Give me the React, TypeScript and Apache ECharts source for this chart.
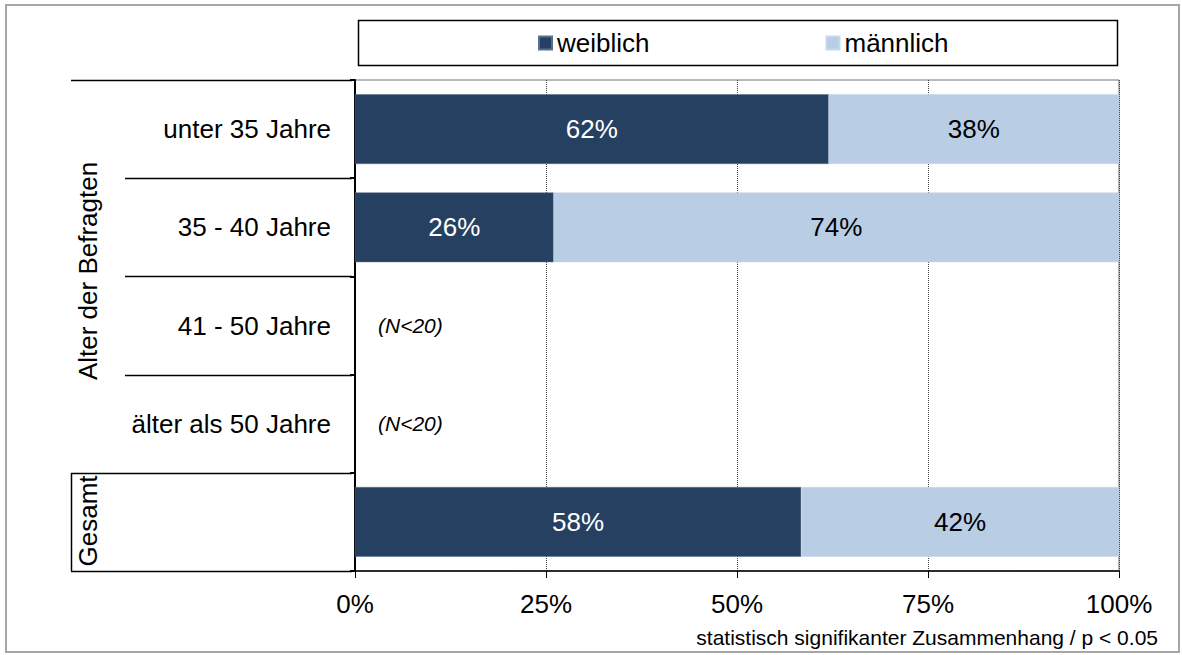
import React, { useEffect, useRef } from "react";
import * as echarts from "echarts";

const categories = ["unter 35 Jahre", "35 - 40 Jahre", "41 - 50 Jahre", "älter als 50 Jahre", "Gesamt"];
const weiblich = [62, 26, null, null, 58.4];
const maennlich = [38, 74, null, null, 41.6];
const notes = [null, null, "(N<20)", "(N<20)", null];
const xTicks = [0, 25, 50, 75, 100];
const seriesNames = ["weiblich", "männlich"];

const FONT = "Liberation Sans, Arial, sans-serif";
const FS = 26;
const GL = 355, GT = 80, GW = 764, GH = 491;

export default function App() {
  const ref = useRef<HTMLDivElement>(null);
  useEffect(() => {
    if (!ref.current) return;
    const chart = echarts.init(ref.current, null, { renderer: "svg" });
    const rowH = GH / categories.length;
    const lines: any[] = [];
    const lineStyle = { stroke: "#000", lineWidth: 1.5 };
    for (let i = 0; i <= categories.length; i++) {
      const y = Math.round(GT + i * rowH) + 0.5;
      const long = i === 0 || i === 4 || i === 5;
      lines.push({ type: "line", shape: { x1: long ? 71 : 125, y1: y, x2: GL - 3, y2: y }, style: lineStyle, silent: true });
    }
    lines.push({ type: "line", shape: { x1: 71.5, y1: Math.round(GT + 4 * rowH), x2: 71.5, y2: GT + GH }, style: lineStyle, silent: true });

    const noteData = notes
      .map((n, i) => (n ? { value: [0, i], note: n } : null))
      .filter((d) => d !== null);

    chart.setOption({
      animation: false,
      backgroundColor: "#fff",
      textStyle: { fontFamily: FONT },
      grid: { left: GL, top: GT, width: GW, height: GH, containLabel: false, show: true, borderColor: "#707070", borderWidth: 1 },
      legend: {
        data: seriesNames,
        left: 533,
        top: 25,
        icon: "rect",
        itemWidth: 13,
        itemHeight: 13,
        itemGap: 176,
        textStyle: { fontSize: FS, color: "#000", fontFamily: FONT },
      },
      xAxis: {
        type: "value",
        min: xTicks[0],
        max: xTicks[xTicks.length - 1],
        interval: 25,
        axisLine: { show: true, lineStyle: { color: "#000", width: 1.5 } },
        axisTick: { show: true, length: 7, lineStyle: { color: "#000", width: 1 } },
        axisLabel: { formatter: "{value}%", fontSize: FS, color: "#000", margin: 20, fontFamily: FONT },
        splitLine: { show: true, lineStyle: { color: "#444", type: [1, 1], width: 1 } },
      },
      yAxis: {
        type: "category",
        inverse: true,
        data: categories,
        axisLine: { show: true, lineStyle: { color: "#000", width: 2 } },
        axisTick: { show: true, length: 5, lineStyle: { color: "#000", width: 2 } },
        axisLabel: {
          fontSize: FS,
          color: "#000",
          margin: 24,
          fontFamily: FONT,
          formatter: (v: string) => (v === "Gesamt" ? "" : v),
        },
        splitLine: { show: false },
      },
      series: [
        {
          name: seriesNames[0],
          type: "bar",
          stack: "total",
          barCategoryGap: "29%",
          data: weiblich,
          itemStyle: { color: "#264061", borderColor: "#5b6f8a", borderWidth: 0.5 },
          label: { show: true, position: "inside", color: "#fff", fontSize: FS, fontFamily: FONT, formatter: (p: any) => Math.round(p.value) + "%" },
        },
        {
          name: seriesNames[1],
          type: "bar",
          stack: "total",
          barCategoryGap: "29%",
          data: maennlich,
          itemStyle: { color: "#B9CDE5", borderColor: "#c8d7ea", borderWidth: 0.5 },
          label: { show: true, position: "inside", color: "#000", fontSize: FS, fontFamily: FONT, formatter: (p: any) => Math.round(p.value) + "%" },
        },
        {
          type: "scatter",
          data: noteData,
          symbolSize: 0,
          silent: true,
          itemStyle: { color: "#000", opacity: 1 },
          label: {
            show: true,
            position: "right",
            distance: 23,
            fontSize: 21,
            fontStyle: "italic",
            color: "#000",
            opacity: 1,
            fontFamily: FONT,
            formatter: (p: any) => p.data.note,
          },
        },
      ],
      graphic: [
        { type: "rect", shape: { x: 6, y: 5, width: 1173, height: 647 }, style: { fill: "none", stroke: "#a6a6a6", lineWidth: 2 }, silent: true },
        { type: "rect", shape: { x: 358.5, y: 20.5, width: 759, height: 45 }, style: { fill: "none", stroke: "#000", lineWidth: 1.5 }, silent: true, z: -1 },
        ...lines,
        {
          type: "text",
          x: 88,
          y: 271,
          rotation: Math.PI / 2,
          style: { text: "Alter der Befragten", fontSize: FS, fontFamily: FONT, fill: "#000", textAlign: "center", textVerticalAlign: "middle" },
        },
        {
          type: "text",
          x: 88,
          y: 521,
          rotation: Math.PI / 2,
          style: { text: "Gesamt", fontSize: FS, fontFamily: FONT, fill: "#000", textAlign: "center", textVerticalAlign: "middle" },
        },
        {
          type: "text",
          x: 1158,
          y: 637,
          style: { text: "statistisch signifikanter Zusammenhang / p < 0.05", fontSize: 21, fontFamily: FONT, fill: "#000", textAlign: "right", textVerticalAlign: "middle" },
        },
      ],
    });
    return () => chart.dispose();
  }, []);
  return <div ref={ref} style={{ position: "absolute", left: 0, top: 0, width: 1182, height: 655 }} />;
}
